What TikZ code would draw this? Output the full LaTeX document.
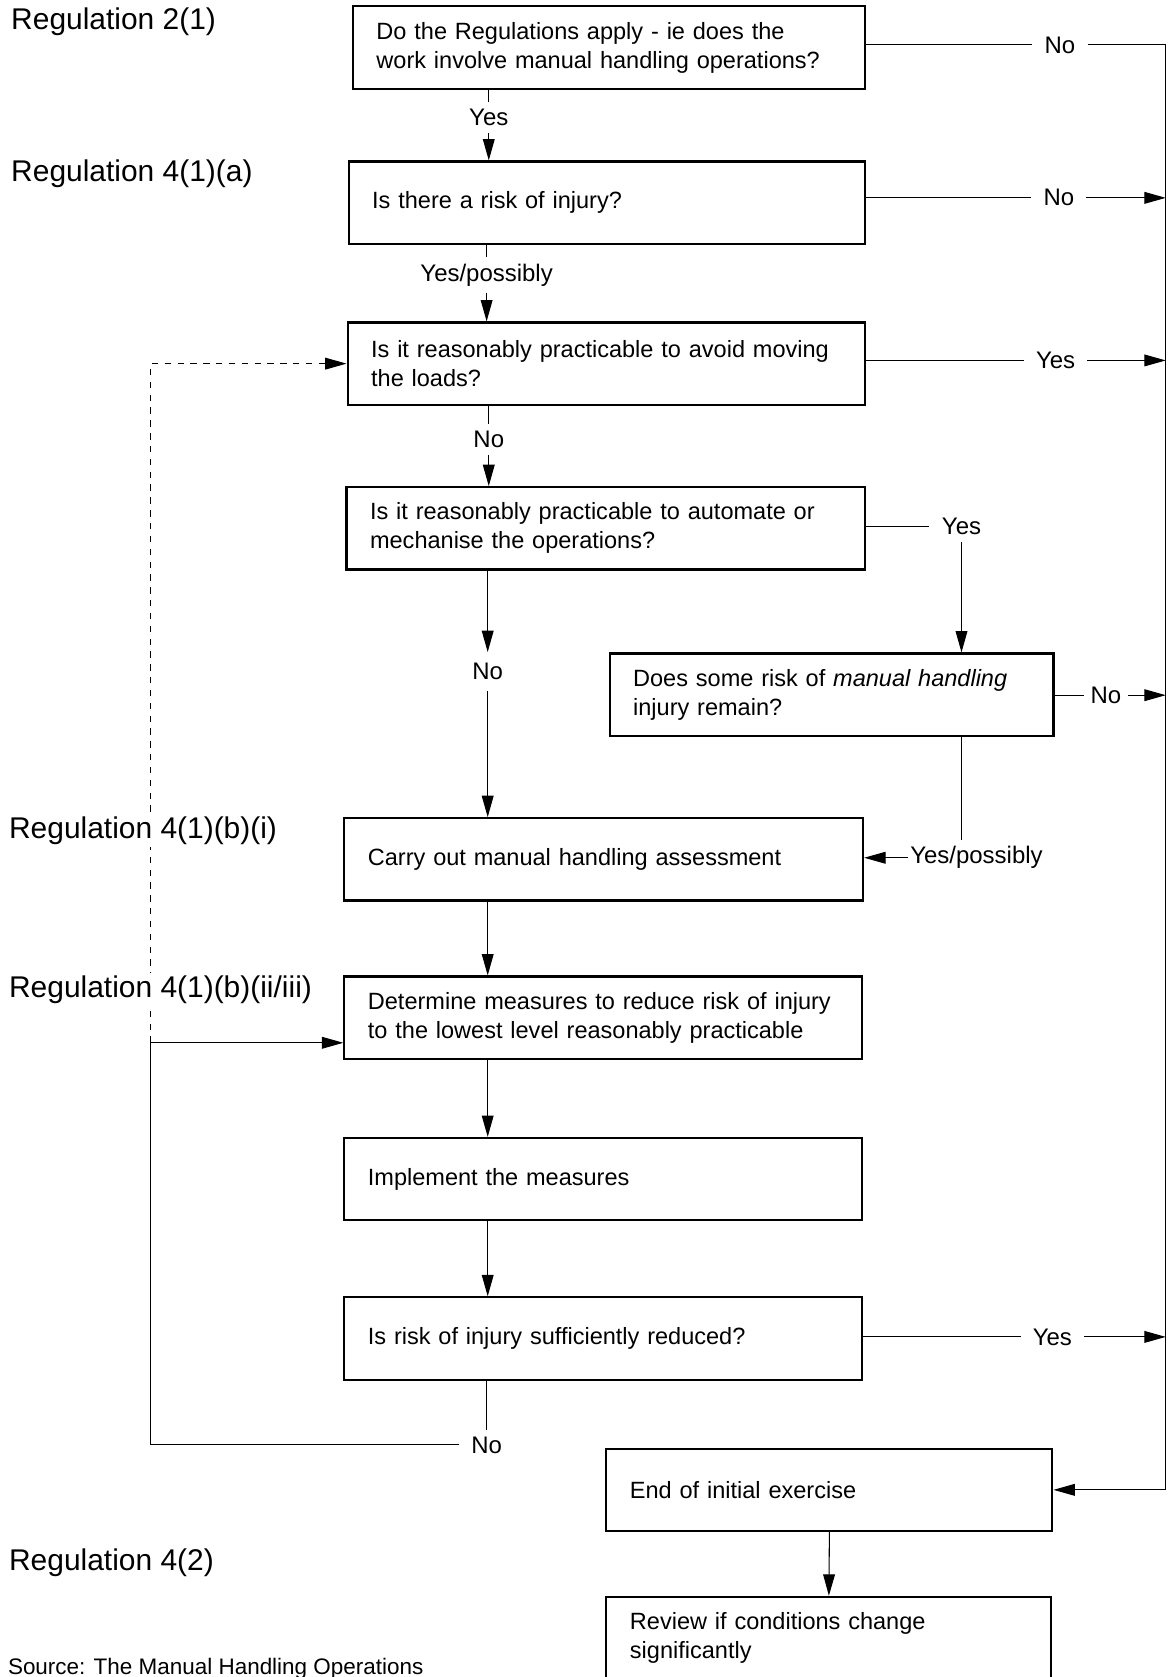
\documentclass[tikz,border=0pt]{standalone}
\usepackage{fontspec}
\setmainfont{Liberation Sans}
\usetikzlibrary{arrows.meta}

\tikzset{
  box/.style={draw, line width=1pt, rectangle, minimum height=38.5pt, inner xsep=11pt, align=left, font=\fontsize{11}{13.5}\selectfont},
  ans/.style={inner xsep=5.5pt, inner ysep=3pt, font=\fontsize{11.2}{13.5}\selectfont},
  reg/.style={anchor=west, fill=white, inner sep=1pt, font=\fontsize{14}{16}\selectfont},
  arr/.style={-{Triangle[length=10pt,width=5.5pt]}},
}

\begin{document}
\begin{tikzpicture}[x=0.5pt,y=-0.5pt,line width=0.5pt]
  \useasboundingbox (0,0) rectangle (1094,1568);
  \clip (0,0) rectangle (1094,1568);
  % boxes
  \node[box,text width=217.5pt] (apply) at (569.5,44.5) {Do the Regulations apply - ie does the\\work involve manual handling operations?};
  \node[box,text width=219.5pt] (risk) at (567.5,189.5) {Is there a risk of injury?};
  \node[box,text width=220pt] (avoid) at (567,340) {Is it reasonably practicable to avoid moving\\the loads?};
  \node[box,text width=220.5pt] (auto) at (566.5,494) {Is it reasonably practicable to automate or\\mechanise the operations?};
  \node[box,text width=185.5pt] (remain) at (777.5,649.5) {Does some risk of \textit{manual handling}\\injury remain?};
  \node[box,text width=220.5pt] (assess) at (564.5,803.5) {Carry out manual handling assessment};
  \node[box,text width=220pt] (determine) at (564,951.5) {Determine measures to reduce risk of injury\\to the lowest level reasonably practicable};
  \node[box,text width=220pt] (implement) at (564,1102.5) {Implement the measures};
  \node[box,text width=220pt] (reduced) at (564,1251.5) {Is risk of injury sufficiently reduced?};
  \node[box,text width=186.5pt] (end) at (775.5,1393) {End of initial exercise};
  \node[box,text width=186pt] (review) at (775,1531.5) {Review if conditions change\\significantly};

  % answers
  \node[ans] (yes1) at (457,110) {Yes};
  \node[ans] (no1) at (991,42) {No};
  \node[ans] (no2) at (990,185) {No};
  \node[ans] (yp1) at (455,257) {Yes/possibly};
  \node[ans] (yes2) at (987,337) {Yes};
  \node[ans] (no3) at (457,411) {No};
  \node[ans,inner xsep=6pt] (yes3) at (899,492) {Yes};
  \node[ans,inner ysep=5pt] (no4) at (456,628) {No};
  \node[ans,inner xsep=3pt] (no5) at (1034,650) {No};
  \node[ans,inner xsep=1pt] (yp2) at (913,802) {Yes/possibly};
  \node[ans] (yes4) at (984,1250) {Yes};
  \node[ans] (no6) at (455,1351) {No};

  \coordinate (rail) at (1090,42);
  \coordinate (loop) at (141,975);

  % main column
  \draw (apply.south -| yes1) -- (yes1);
  \draw[arr] (yes1) -- (risk.north -| yes1);
  \draw (risk.south -| yp1) -- (yp1);
  \draw[arr] (yp1) -- (avoid.north -| yp1);
  \draw (avoid.south -| no3) -- (no3);
  \draw[arr] (no3) -- (auto.north -| no3);
  \draw[arr] (auto.south -| no4) -- (no4);
  \draw[arr] (no4) -- (assess.north -| no4);
  \draw[arr] (assess.south -| no4) -- (determine.north -| no4);
  \draw[arr] (determine.south -| no4) -- (implement.north -| no4);
  \draw[arr] (implement.south -| no4) -- (reduced.north -| no4);
  \draw (reduced.south -| no6) -- (no6);
  \draw[arr] (end.south) -- (review.north);

  % right side
  \draw (apply.east |- no1) -- (no1);
  \draw[arr] (no1.east) -- (rail) |- (end.east);
  \draw (risk.east |- no2) -- (no2);
  \draw[arr] (no2) -- (rail |- no2);
  \draw (avoid.east |- yes2) -- (yes2);
  \draw[arr] (yes2) -- (rail |- yes2);
  \draw (auto.east |- yes3) -- (yes3);
  \draw[arr] (yes3) -- (yes3 |- remain.north);
  \draw (remain.east |- no5) -- (no5);
  \draw[arr] (no5) -- (rail |- no5);
  \draw (remain.south -| yes3) -- (yp2.north -| yes3);
  \draw[arr] (yp2) -- (assess.east |- yp2);
  \draw (reduced.east |- yes4) -- (yes4);
  \draw[arr] (yes4) -- (rail |- yes4);

  % left loop
  \draw[arr] (no6.west) -| (loop) -- (determine.west |- loop);
  \draw[arr,dashed] (loop) |- (avoid.west);

  % regulations
  \node[reg] (reg21) at (8,20) {Regulation 2(1)};
  \node[reg] (reg41a) at (8,162) {Regulation 4(1)(a)};
  \node[reg] (reg41bi) at (6,777) {Regulation 4(1)(b)(i)};
  \node[reg] (reg41bii) at (6,925) {Regulation 4(1)(b)(ii/iii)};
  \node[reg] (reg42) at (6,1461) {Regulation 4(2)};
  \node[anchor=base west, inner sep=1pt, font=\fontsize{10.5}{12}\selectfont] (source) at (5,1566) {Source: The Manual Handling Operations};
\end{tikzpicture}
\end{document}
